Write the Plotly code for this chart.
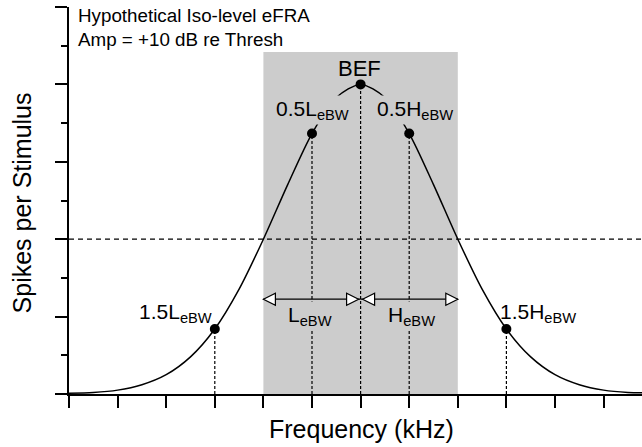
import plotly.graph_objects as go

# ---------------- data ----------------
freq = [0.0, 0.5, 1.0, 1.5, 2.0, 2.5, 3.0, 3.5, 4.0, 4.5, 5.0, 5.5, 6.0,
        6.5, 7.0, 7.5, 8.0, 8.5, 9.0, 9.5, 10.0, 10.5, 11.0, 11.5, 11.79]
spikes = [0.002, 0.004, 0.010, 0.024, 0.050, 0.096, 0.168, 0.271, 0.400,
          0.541, 0.673, 0.766, 0.800, 0.766, 0.673, 0.541, 0.400, 0.271,
          0.168, 0.096, 0.050, 0.024, 0.010, 0.004, 0.003]

bef = 6.0            # best excitatory frequency
low_edge = 4.0       # lower eBW edge
high_edge = 8.0      # upper eBW edge
half_max = 0.4       # iso-level criterion
band_top = 0.884     # top of the shaded band
arrow_level = 0.245  # level of the eBW arrows
marker_freqs = [3.0, 5.0, 6.0, 7.0, 9.0]

x_max = freq[-1]
lookup = dict(zip(freq, spikes))
marker_vals = [lookup[f] for f in marker_freqs]

FONT = "Liberation Sans, Arial, sans-serif"
GRAY = "#cccccc"

fig = go.Figure()

# curve
fig.add_trace(go.Scatter(x=freq, y=spikes, mode="lines",
                         line=dict(color="black", width=1.5, shape="spline", smoothing=0.8),
                         hoverinfo="skip", showlegend=False))

# vertical dotted drop lines
vx, vy = [], []
for f, v in zip(marker_freqs, marker_vals):
    vx += [f, f, None]
    vy += [0, v, None]
fig.add_trace(go.Scatter(x=vx, y=vy, mode="lines",
                         line=dict(color="black", width=1.2, dash="3px,2px"),
                         hoverinfo="skip", showlegend=False))

# horizontal dashed criterion line
fig.add_trace(go.Scatter(x=[0, x_max], y=[half_max, half_max], mode="lines",
                         line=dict(color="black", width=1.2, dash="5px,4px"),
                         hoverinfo="skip", showlegend=False))

# arrow shafts
fig.add_trace(go.Scatter(x=[low_edge, bef, None, bef, high_edge],
                         y=[arrow_level, arrow_level, None, arrow_level, arrow_level],
                         mode="lines", line=dict(color="black", width=1.3),
                         hoverinfo="skip", showlegend=False))

# dots
fig.add_trace(go.Scatter(x=marker_freqs, y=marker_vals, mode="markers",
                         marker=dict(color="black", size=10),
                         hoverinfo="skip", showlegend=False))

shapes = [dict(type="rect", xref="x", yref="y", x0=low_edge, x1=high_edge, y0=0, y1=band_top,
               fillcolor=GRAY, line=dict(width=0), layer="below")]

def head(xa, path):
    return dict(type="path", xref="x", yref="y", xsizemode="pixel", ysizemode="pixel",
                xanchor=xa, yanchor=arrow_level, path=path,
                fillcolor="white", line=dict(color="black", width=1.2), layer="above")

shapes += [head(low_edge, "M0,0 L12,6 L12,-6 Z"),
           head(bef, "M-2,0 L-14,6 L-14,-6 Z"),
           head(bef, "M2,0 L14,6 L14,-6 Z"),
           head(high_edge, "M0,0 L-12,6 L-12,-6 Z")]

LAB = 21
ann = []
def lab(text, x, y, xshift, yshift, yanchor="bottom", bg=None, size=LAB):
    d = dict(text=text, x=x, y=y, xref="x", yref="y", xanchor="center", yanchor=yanchor,
             xshift=xshift, yshift=yshift, showarrow=False,
             font=dict(family=FONT, size=size, color="black"))
    if bg:
        d["bgcolor"] = bg
    ann.append(d)

lab("BEF", bef, lookup[bef], -1, 1.0, size=22)
lab("0.5L<sub>eBW</sub>", 5.0, lookup[5.0], 0.5, 9, bg=GRAY)
lab("0.5H<sub>eBW</sub>", 7.0, lookup[7.0], 6, 9, bg=GRAY)
lab("1.5L<sub>eBW</sub>", 3.0, lookup[3.0], -39, 1.0)
lab("1.5H<sub>eBW</sub>", 9.0, lookup[9.0], 31.5, 1.0)
lab("L<sub>eBW</sub>", 5.0, arrow_level, -2.5, -2, yanchor="top", bg=GRAY)
lab("H<sub>eBW</sub>", 7.0, arrow_level, 2, -2, yanchor="top", bg=GRAY)

ann.append(dict(text="Hypothetical Iso-level eFRA<br>Amp = +10 dB re Thresh",
                x=0, y=1, xref="paper", yref="paper", xanchor="left", yanchor="top",
                xshift=7, yshift=4, align="left", showarrow=False,
                font=dict(family=FONT, size=18.8, color="black")))
ann.append(dict(text="Frequency (kHz)", x=0.5096, y=0, xref="paper", yref="paper",
                xanchor="center", yanchor="middle", yshift=-35.3, showarrow=False,
                font=dict(family=FONT, size=25, color="black")))
ann.append(dict(text="Spikes per Stimulus", x=0, y=0.4935, xref="paper", yref="paper",
                xanchor="center", yanchor="middle", xshift=-46.6, textangle=-90,
                showarrow=False, font=dict(family=FONT, size=25, color="black")))

axis_common = dict(showline=True, linecolor="black", linewidth=1.5, ticks="outside",
                   ticklen=12, tickwidth=1.5, tickcolor="black", showticklabels=False,
                   showgrid=False, zeroline=False, fixedrange=True)

fig.update_layout(
    width=642, height=447, margin=dict(l=69, r=0, t=7, b=53),
    paper_bgcolor="white", plot_bgcolor="white",
    xaxis=dict(range=[0, x_max], tick0=0, dtick=1, **axis_common),
    yaxis=dict(range=[0, 1], tick0=0, dtick=0.2,
               minor=dict(ticks="outside", ticklen=6, tickwidth=1.5, tickcolor="black",
                          dtick=0.1, showgrid=False),
               **axis_common),
    shapes=shapes, annotations=ann, showlegend=False,
)

fig.write_html("out.html")
